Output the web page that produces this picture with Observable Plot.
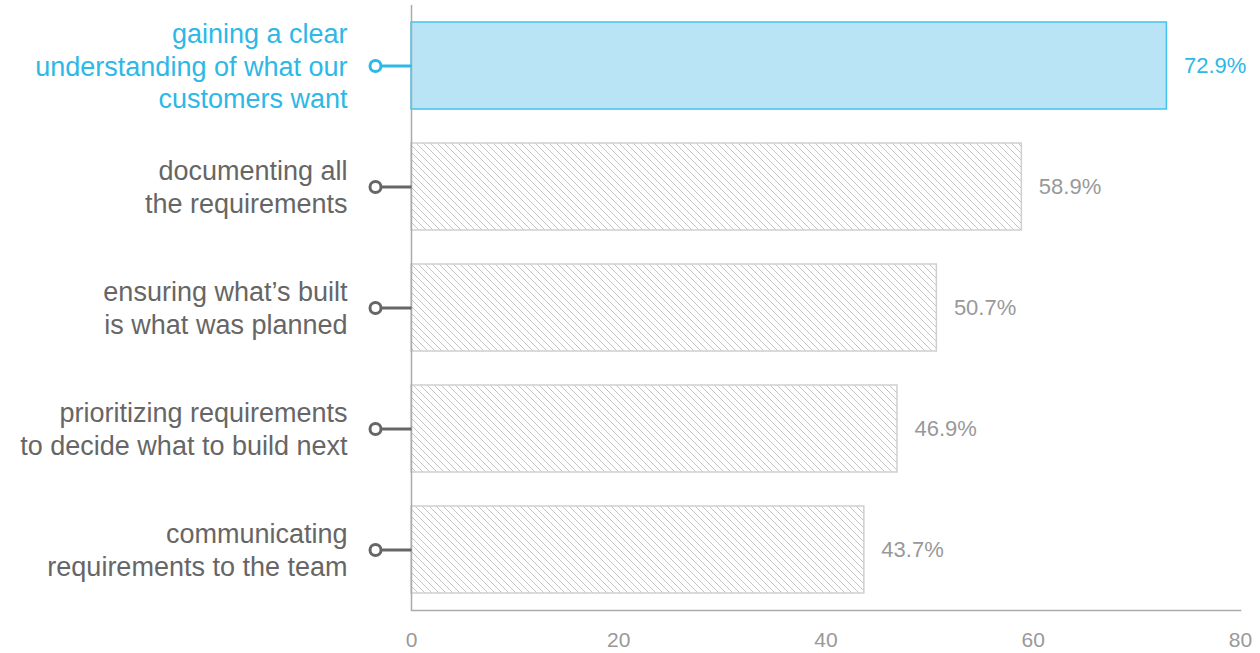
<!DOCTYPE html>
<html>
<head>
<meta charset="utf-8">
<script src="https://cdn.jsdelivr.net/npm/d3@7"></script>
<script src="https://cdn.jsdelivr.net/npm/@observablehq/plot@0.6"></script>
<style>
  html, body { margin: 0; padding: 0; background: #fff; }
  #chart svg { display: block; }
</style>
</head>
<body>
<div id="chart"></div>
<script>
const categories = [
  "gaining a clear\nunderstanding of what our\ncustomers want",
  "documenting all\nthe requirements",
  "ensuring what\u2019s built\nis what was planned",
  "prioritizing requirements\nto decide what to build next",
  "communicating\nrequirements to the team"
];
const values = [72.9, 58.9, 50.7, 46.9, 43.7];
const highlighted = [true, false, false, false, false];
const xTicks = [0, 20, 40, 60, 80];

const data = categories.map((c, i) => ({label: c, value: values[i], hi: highlighted[i]}));

const BLUE = "#2db8e6";
const GRAY = "#666666";

const lineSymbol = {
  draw(context) {
    context.moveTo(-30, 0);
    context.lineTo(0, 0);
  }
};

const chart = Plot.plot({
  width: 1260,
  height: 653,
  marginLeft: 411,
  marginRight: 20,
  marginTop: 5,
  marginBottom: 43,
  style: {fontFamily: "'Liberation Sans', Arial, sans-serif", background: "#fff"},
  x: {domain: [0, 80], ticks: xTicks},
  y: {domain: categories, paddingInner: 0.277, paddingOuter: 0.125, axis: null},
  marks: [
    Plot.barX(data, {
      y: "label", x: "value",
      fill: d => d.hi ? "#b8e4f6" : "url(#hatch)",
      stroke: d => d.hi ? "#45c2ec" : "#cfcfcf",
      strokeWidth: 1.5
    }),
    Plot.ruleX([0], {stroke: "#aaa", strokeWidth: 1.5}),
    Plot.frame({anchor: "bottom", stroke: "#aaa", strokeWidth: 1.5}),
    Plot.axisX({ticks: xTicks, tickSize: 0, tickPadding: 22, fontSize: 21, color: "#999", label: null}),
    Plot.dot(data, {
      x: () => 0, y: "label", symbol: lineSymbol, r: 6,
      fill: "none", stroke: d => d.hi ? BLUE : GRAY, strokeWidth: 3
    }),
    Plot.dot(data, {
      x: () => 0, y: "label", dx: -36, r: 5.5,
      fill: "white", stroke: d => d.hi ? BLUE : GRAY, strokeWidth: 3
    }),
    Plot.text(data, {
      x: () => 0, y: "label", text: "label", dx: -64, dy: -1,
      textAnchor: "end", lineHeight: 1.22, fontSize: 27,
      fill: d => d.hi ? BLUE : GRAY
    }),
    Plot.text(data, {
      x: "value", y: "label", text: d => d.value.toFixed(1) + "%",
      dx: 17, textAnchor: "start", fontSize: 22,
      fill: d => d.hi ? BLUE : "#999"
    })
  ]
});

const svg = d3.select(chart);
const defs = svg.insert("defs", ":first-child");
const pat = defs.append("pattern")
  .attr("id", "hatch")
  .attr("patternUnits", "userSpaceOnUse")
  .attr("width", 7).attr("height", 7);
pat.append("rect").attr("width", 7).attr("height", 7).attr("fill", "#fff");
pat.append("path")
  .attr("d", "M0,0L7,7M-1,6L1,8M6,-1L8,1")
  .attr("stroke", "#c4c4c4").attr("stroke-width", 1);

document.getElementById("chart").appendChild(chart);
</script>
</body>
</html>
